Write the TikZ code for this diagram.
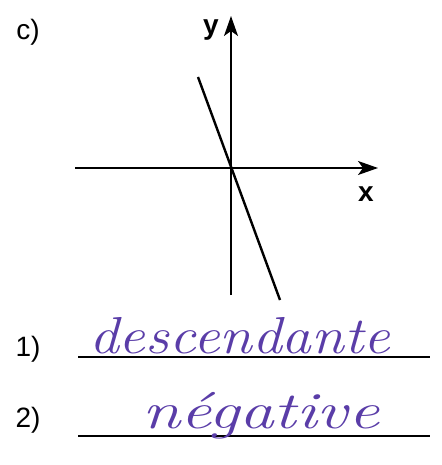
\documentclass[tikz,border=0pt]{standalone}
\usepackage{fontspec}
\setmainfont{Liberation Sans}
\usetikzlibrary{arrows.meta}
\definecolor{ink}{HTML}{5A3DA8}
\newfontfamily\handfont{Latin Modern Roman}
\begin{document}
\begin{tikzpicture}[x=1pt,y=-1pt,
  lab/.style={inner sep=0pt,font=\fontsize{28}{32}\selectfont},
  axlab/.style={inner sep=0pt,font=\fontsize{28}{32}\selectfont\bfseries},
  axis/.style={line width=1.4pt,-{Stealth[length=20pt,width=14pt,inset=5pt]}},
  rule/.style={line width=1.4pt},
  hand/.style={inner sep=0pt,text=ink,font=\fontsize{52}{56}\selectfont\handfont\itshape}]
\useasboundingbox (0,0) rectangle (441,465);
\coordinate (yb) at (231,295);
\coordinate (yt) at (231,16);
\coordinate (xl) at (75,168);
\coordinate (xr) at (378,168);
\coordinate (ls) at (198,77);
\coordinate (le) at (280,300);
\draw[axis] (yb) -- (yt);
\draw[axis] (xl) -- (xr);
\draw[line width=2.4pt] (ls) -- (le);
\node[lab] (c) at (28,32) {c)};
\node[axlab] (ylab) at (211,30) {y};
\node[axlab] (xlab) at (366,194) {x};
\node[lab] (n1) at (28,349) {1)};
\node[lab] (n2) at (28,420) {2)};
\coordinate (r1a) at (78,357);
\coordinate (r1b) at (430,357);
\coordinate (r2a) at (78,436);
\coordinate (r2b) at (430,436);
\draw[rule] (r1a) -- (r1b);
\draw[rule] (r2a) -- (r2b);
\node[hand,anchor=base west,xscale=1.14] (w1) at (89,353) {descendante};
\node[hand,anchor=base west,xscale=1.33] (w2) at (142,428) {n\'egative};
\end{tikzpicture}
\end{document}
